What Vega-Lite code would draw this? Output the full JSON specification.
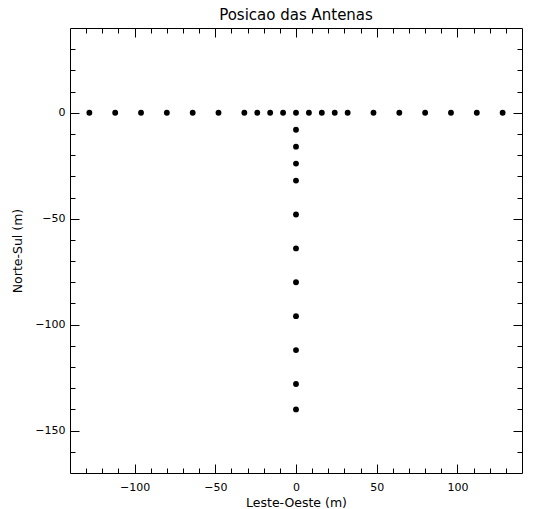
{
  "$schema": "https://vega.github.io/schema/vega-lite/v6.json",
  "width": 452,
  "height": 445,
  "autosize": "none",
  "padding": {"left": 70, "top": 28, "right": 32, "bottom": 36},
  "background": "white",
  "title": {"text": "Posicao das Antenas", "font": "DejaVu Sans", "fontSize": 15, "fontWeight": "normal", "color": "black", "offset": 5},
  "config": {
    "view": {"stroke": null},
    "axis": {"domainColor": "black", "tickColor": "black", "labelColor": "black", "titleColor": "black", "labelFont": "DejaVu Sans", "titleFont": "DejaVu Sans", "labelFontSize": 11, "titleFontSize": 12.5, "titleFontWeight": "normal", "grid": false, "domainWidth": 1, "tickWidth": 1}
  },
  "data": {"values": [
    {"x": -128, "y": 0}, {"x": -112, "y": 0}, {"x": -96, "y": 0}, {"x": -80, "y": 0},
    {"x": -64, "y": 0}, {"x": -48, "y": 0}, {"x": -32, "y": 0}, {"x": -24, "y": 0},
    {"x": -16, "y": 0}, {"x": -8, "y": 0}, {"x": 0, "y": 0}, {"x": 8, "y": 0},
    {"x": 16, "y": 0}, {"x": 24, "y": 0}, {"x": 32, "y": 0}, {"x": 48, "y": 0},
    {"x": 64, "y": 0}, {"x": 80, "y": 0}, {"x": 96, "y": 0}, {"x": 112, "y": 0},
    {"x": 128, "y": 0},
    {"x": 0, "y": -8}, {"x": 0, "y": -16}, {"x": 0, "y": -24}, {"x": 0, "y": -32},
    {"x": 0, "y": -48}, {"x": 0, "y": -64}, {"x": 0, "y": -80}, {"x": 0, "y": -96},
    {"x": 0, "y": -112}, {"x": 0, "y": -128}, {"x": 0, "y": -140}
  ]},
  "resolve": {"axis": {"x": "independent", "y": "independent"}},
  "layer": [
    {
      "mark": {"type": "point", "shape": "circle", "filled": true, "color": "black", "size": 34, "opacity": 1},
      "encoding": {
        "x": {"field": "x", "type": "quantitative", "scale": {"domain": [-140, 140], "nice": false, "zero": false},
          "axis": {"orient": "bottom", "values": [-100, -50, 0, 50, 100], "tickSize": -9, "labelPadding": 17, "title": "Leste-Oeste (m)", "titlePadding": 4, "format": "d"}},
        "y": {"field": "y", "type": "quantitative", "scale": {"domain": [-170, 40], "nice": false, "zero": false},
          "axis": {"orient": "left", "values": [-150, -100, -50, 0], "tickSize": -9, "labelPadding": 14, "title": "Norte-Sul (m)", "titlePadding": 10, "format": "d"}}
      }
    },
    {
      "mark": {"type": "point", "opacity": 0},
      "encoding": {
        "x": {"field": "x", "type": "quantitative", "axis": {"orient": "bottom", "values": [-130, -120, -110, -90, -80, -70, -60, -40, -30, -20, -10, 10, 20, 30, 40, 60, 70, 80, 90, 110, 120, 130], "tickSize": -5, "labels": false, "domain": false, "title": null}},
        "y": {"field": "y", "type": "quantitative", "axis": {"orient": "left", "values": [-160, -140, -130, -120, -110, -90, -80, -70, -60, -40, -30, -20, -10, 10, 20, 30], "tickSize": -5, "labels": false, "domain": false, "title": null}}
      }
    },
    {
      "mark": {"type": "point", "opacity": 0},
      "encoding": {
        "x": {"field": "x", "type": "quantitative", "axis": {"orient": "top", "values": [-100, -50, 0, 50, 100], "tickSize": -9, "labels": false, "title": null}},
        "y": {"field": "y", "type": "quantitative", "axis": {"orient": "right", "values": [-150, -100, -50, 0], "tickSize": -9, "labels": false, "title": null}}
      }
    },
    {
      "mark": {"type": "point", "opacity": 0},
      "encoding": {
        "x": {"field": "x", "type": "quantitative", "axis": {"orient": "top", "values": [-130, -120, -110, -90, -80, -70, -60, -40, -30, -20, -10, 10, 20, 30, 40, 60, 70, 80, 90, 110, 120, 130], "tickSize": -5, "labels": false, "domain": false, "title": null}},
        "y": {"field": "y", "type": "quantitative", "axis": {"orient": "right", "values": [-160, -140, -130, -120, -110, -90, -80, -70, -60, -40, -30, -20, -10, 10, 20, 30], "tickSize": -5, "labels": false, "domain": false, "title": null}}
      }
    }
  ]
}
